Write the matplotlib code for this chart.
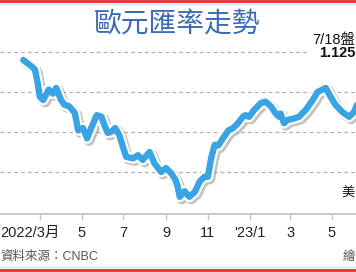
import numpy as np
import matplotlib
matplotlib.use("Agg")
import matplotlib.pyplot as plt
import matplotlib.patheffects as pe
from matplotlib.lines import Line2D
import matplotlib.transforms as mtransforms

plt.rcParams['font.family'] = ['Liberation Sans', 'Noto Sans CJK TC', 'DejaVu Sans']

# EUR/USD
dates = np.array([
    '2022-02-05', '2022-02-17', '2022-02-22', '2022-02-26', '2022-03-01', '2022-03-06',
    '2022-03-14', '2022-03-20', '2022-03-25', '2022-04-01', '2022-04-06', '2022-04-13',
    '2022-04-21', '2022-04-26', '2022-05-03', '2022-05-09', '2022-05-15', '2022-05-23',
    '2022-05-30', '2022-06-03', '2022-06-08', '2022-06-13', '2022-06-19', '2022-06-25',
    '2022-06-30', '2022-07-05', '2022-07-15', '2022-07-22', '2022-07-29', '2022-08-08',
    '2022-08-15', '2022-08-25', '2022-09-01', '2022-09-09', '2022-09-15', '2022-09-18',
    '2022-09-21', '2022-09-28', '2022-10-05', '2022-10-13', '2022-10-20', '2022-10-27',
    '2022-11-01', '2022-11-06', '2022-11-11', '2022-11-16', '2022-11-23', '2022-12-01',
    '2022-12-08', '2022-12-15', '2022-12-22', '2022-12-26', '2022-12-31', '2023-01-08',
    '2023-01-17', '2023-01-24', '2023-02-01', '2023-02-08', '2023-02-13', '2023-02-15',
    '2023-02-20', '2023-02-25', '2023-03-07', '2023-03-14', '2023-03-24', '2023-04-03',
    '2023-04-10', '2023-04-17', '2023-04-22', '2023-04-29', '2023-05-06', '2023-05-16',
    '2023-05-26', '2023-06-02', '2023-06-07', '2023-06-22', '2023-07-06', '2023-07-18',
], dtype='datetime64[D]')
rates = [
    1.140, 1.132, 1.128, 1.111, 1.094, 1.090,
    1.103, 1.098, 1.105, 1.090, 1.084, 1.082,
    1.074, 1.052, 1.055, 1.042, 1.055, 1.071,
    1.069, 1.059, 1.049, 1.050, 1.055, 1.046,
    1.032, 1.019, 1.017, 1.021, 1.015, 1.025,
    1.011, 1.000, 1.005, 0.998, 0.990, 0.982,
    0.969, 0.976, 0.969, 0.975, 0.988, 0.994,
    0.994, 1.018, 1.034, 1.033, 1.042, 1.052,
    1.055, 1.061, 1.069, 1.071, 1.069, 1.078,
    1.086, 1.088, 1.082, 1.073, 1.069, 1.073,
    1.061, 1.065, 1.067, 1.069, 1.078, 1.090,
    1.100, 1.103, 1.105, 1.094, 1.084, 1.075,
    1.069, 1.075, 1.085, 1.100, 1.090, 1.125,
]

tick_dates = np.array(['2022-03-01', '2022-05-01', '2022-07-01', '2022-09-01',
                       '2022-11-01', '2023-01-01', '2023-03-01', '2023-05-01'],
                      dtype='datetime64[D]')
tick_labels = ['2022/3月', '5', '7', '9', '11', "'23/1", '3', '5']
grid_levels = [1.15, 1.10, 1.05, 1.00]

fig = plt.figure(figsize=(3.56, 2.72), dpi=100)
ax = fig.add_axes([0, 58 / 272, 1, 174 / 272])

# dashed grid, the top one stops before the note
for g in grid_levels:
    xmax = 307 / 356 if g == grid_levels[0] else 1
    ax.axhline(g, xmax=xmax, color='#b0b0b0', lw=0.9, ls=(0, (3, 2.5)), zorder=1)

ax.plot(dates, rates, color='#3aa3e3', lw=4.6, solid_joinstyle='round',
        solid_capstyle='round', zorder=3,
        path_effects=[pe.SimpleLineShadow(offset=(1.5, -1.5), shadow_color='#555555',
                                          alpha=0.35, linewidth=7.8),
                      pe.Stroke(linewidth=7.8, foreground='white'),
                      pe.Normal()])

ax.set_xlim(np.datetime64('2022-01-02'), np.datetime64('2023-06-05'))
ax.set_ylim(0.9475, 1.165)

for s in ['left', 'right', 'top']:
    ax.spines[s].set_visible(False)
ax.spines['bottom'].set_color('#c4c4c4')
ax.spines['bottom'].set_linewidth(1.3)
ax.set_yticks([])
ax.set_xticks(tick_dates)
ax.set_xticklabels(tick_labels, fontsize=10.5, color='#222222')
ax.tick_params(axis='x', length=4, width=1, color='#c4c4c4', pad=4.5)
first = ax.get_xticklabels()[0]
first.set_horizontalalignment('right')
first.set_transform(first.get_transform() +
                    mtransforms.ScaledTranslation(20 / 100, 0, fig.dpi_scale_trans))

# texts (only the parts that show inside the crop)
fig.text(177 / 356, 1 - 25 / 272, '歐元匯率走勢', fontsize=20, color='#3b6cb3',
         ha='center', va='center', family=['Noto Sans CJK TC'])
fig.text(355 / 356, 1 - 40 / 272, '7/18盤', fontsize=10.5, color='#111111',
         ha='right', va='center')
fig.text(355 / 356, 1 - 53 / 272, '1.125', fontsize=10.5, color='#111111',
         ha='right', va='center', fontweight='bold')
fig.text(355 / 356, 1 - 193 / 272, '美', fontsize=9.5, color='#111111',
         ha='right', va='center')
fig.text(0, 1 - 257 / 272, '資料來源：CNBC', fontsize=9, color='#555555',
         ha='left', va='center')
fig.text(355 / 356, 1 - 257 / 272, '繪', fontsize=9, color='#555555',
         ha='right', va='center')

# frame lines top and bottom
for y, c, w in [(1 - 1 / 272, '#e03030', 2), (1 - 4 / 272, '#cfe4f2', 1),
                (1 - 267 / 272, '#cfe4f2', 1), (1 - 270 / 272, '#e03030', 2)]:
    fig.add_artist(Line2D([0, 1], [y, y], color=c, lw=w, transform=fig.transFigure))

fig.savefig('out.png', dpi=100, facecolor='white')
